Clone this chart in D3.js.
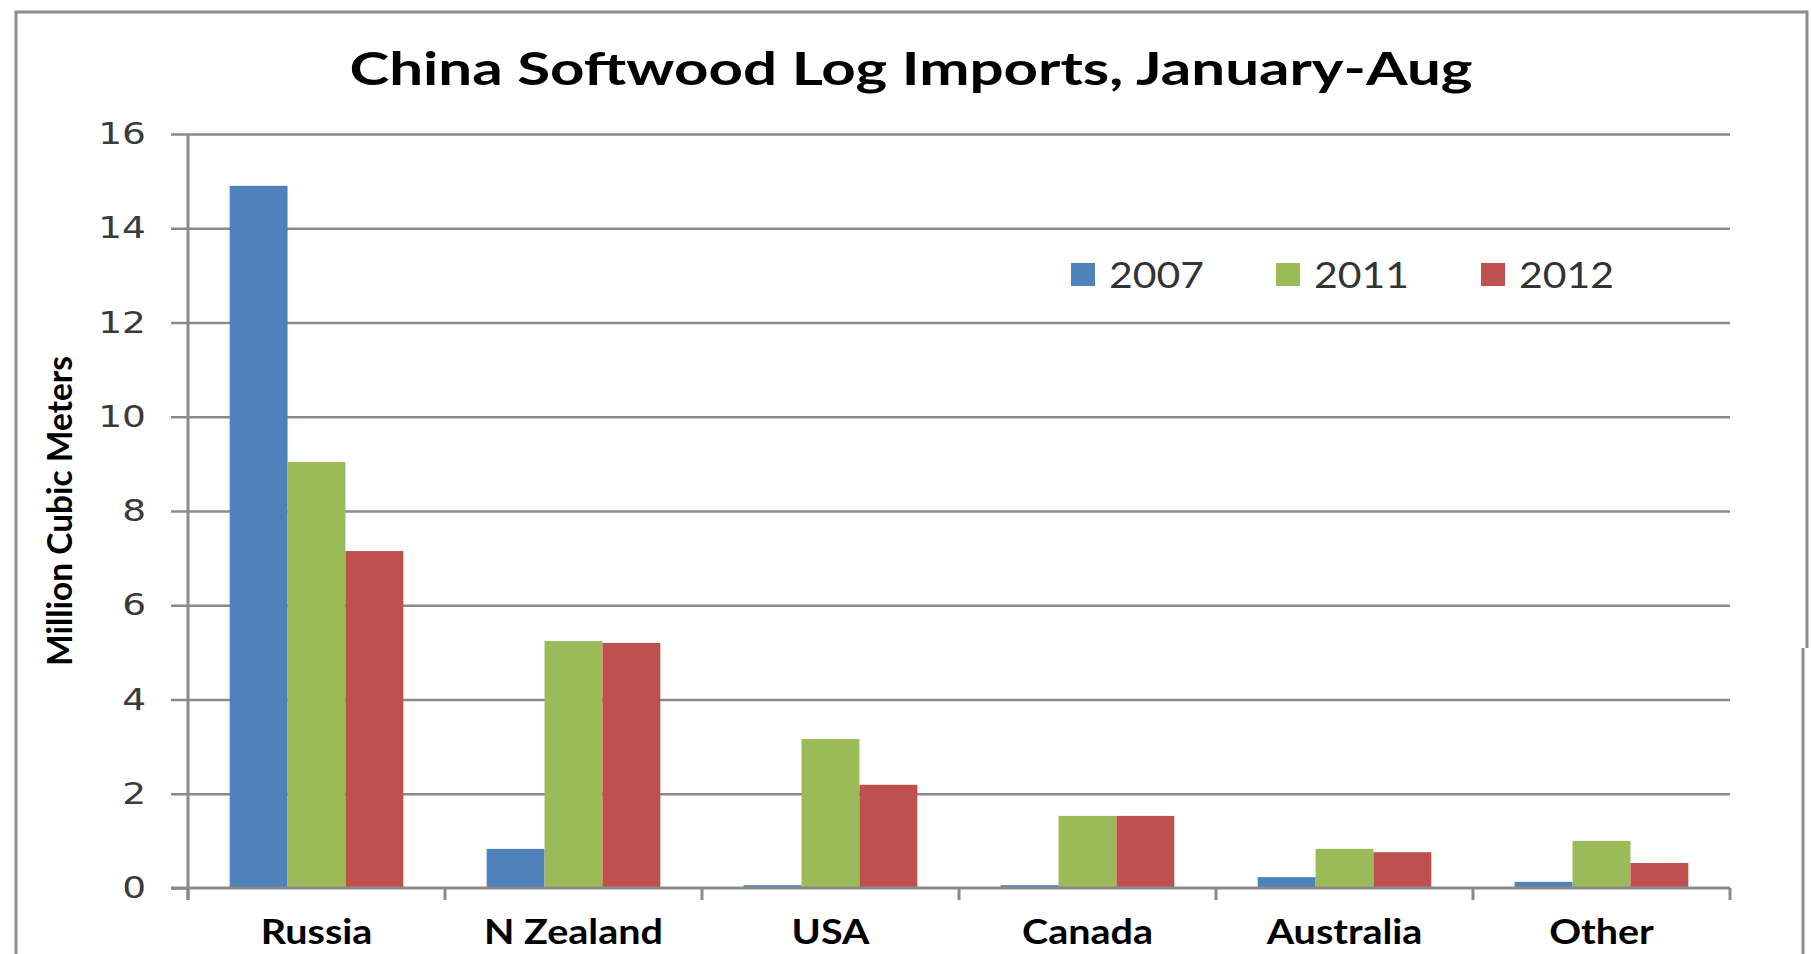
<!DOCTYPE html>
<html>
<head>
<meta charset="utf-8">
<script src="https://cdn.jsdelivr.net/npm/d3@7"></script>
<style>
  html, body { margin: 0; padding: 0; background: #fff; }
  svg { display: block; }
</style>
</head>
<body>
<svg id="chart" width="1811" height="954"></svg>
<script>
// ---- data ----
const categories = ["Russia", "N Zealand", "USA", "Canada", "Australia", "Other"];
const series = ["2007", "2011", "2012"];
const values2007 = [14.9, 0.83, 0.06, 0.06, 0.23, 0.13];
const values2011 = [9.04, 5.24, 3.16, 1.53, 0.83, 1.0];
const values2012 = [7.15, 5.2, 2.19, 1.53, 0.76, 0.53];
const yTicks = [0, 2, 4, 6, 8, 10, 12, 14, 16];
const titleText = "China Softwood Log Imports, January-Aug";
const yTitleText = "Million Cubic Meters";

const seriesValues = { "2007": values2007, "2011": values2011, "2012": values2012 };
const colors = { "2007": "#4F81BD", "2011": "#9BBB59", "2012": "#C0504D" };

// ---- layout ----
const svg = d3.select("#chart");
const plot = { left: 188, right: 1730, top: 134, bottom: 888 };
const gridColor = "#8a8a8a";

const x0 = d3.scaleBand().domain(categories).range([plot.left, plot.right]).padding(0);
const x1 = d3.scaleBand().domain(series).range([0, x0.bandwidth()]).paddingInner(0).paddingOuter(0.72);
const y = d3.scaleLinear().domain([0, 16]).range([plot.bottom, plot.top]);

// outer border
svg.append("path")
  .attr("d", "M16,960 L16,12 L1807,12 L1807,648 M1803,648 L1803,960")
  .attr("fill", "none").attr("stroke", "#8c8c8c").attr("stroke-width", 3);

// title
const title = svg.append("text")
  .attr("x", 911).attr("y", 85)
  .attr("text-anchor", "middle")
  .style("font-family", "Lato, 'Open Sans', sans-serif")
  .style("font-weight", "bold")
  .style("font-size", "46px")
  .attr("fill", "#000")
  .text(titleText);
const natTitle = title.node().getComputedTextLength();
title.attr("textLength", 1123).attr("lengthAdjust", "spacingAndGlyphs");
const sx = 1123 / natTitle;

// gridlines
svg.append("g")
  .attr("transform", `translate(${plot.left},0)`)
  .call(d3.axisLeft(y).tickValues(yTicks.filter(d => d > 0)).tickSize(-(plot.right - plot.left)).tickFormat(""))
  .call(g => g.select(".domain").remove())
  .call(g => g.selectAll(".tick line").attr("stroke", gridColor).attr("stroke-width", 2.5));

// y axis
const yAxisG = svg.append("g")
  .attr("transform", `translate(${plot.left},0)`)
  .call(d3.axisLeft(y).tickValues(yTicks).tickSize(17).tickPadding(25).tickSizeOuter(0));
yAxisG.select(".domain").remove();
yAxisG.selectAll(".tick line").attr("stroke", gridColor).attr("stroke-width", 2.5);
yAxisG.append("line")
  .attr("x1", 0).attr("x2", 0).attr("y1", plot.top).attr("y2", plot.bottom + 12)
  .attr("stroke", gridColor).attr("stroke-width", 3);
yAxisG.selectAll(".tick text")
  .style("font-family", "'DejaVu Sans', Verdana, sans-serif")
  .style("font-size", "30px")
  .attr("fill", "#3a3a3a")
  .each(function() {
    const w = this.getComputedTextLength();
    d3.select(this).attr("textLength", w * 1.25).attr("lengthAdjust", "spacingAndGlyphs");
  });

// bars
const barGroups = svg.append("g").selectAll("g")
  .data(series).join("g")
  .attr("fill", s => colors[s]);
barGroups.selectAll("rect")
  .data(s => categories.map((c, i) => ({ s, c, v: seriesValues[s][i] })))
  .join("rect")
  .attr("x", d => x0(d.c) + x1(d.s))
  .attr("width", x1.bandwidth())
  .attr("y", d => y(d.v))
  .attr("height", d => y(0) - y(d.v));

// x axis line and boundary ticks
const xAxisG = svg.append("g");
xAxisG.append("line")
  .attr("x1", plot.left - 17).attr("x2", plot.right)
  .attr("y1", y(0)).attr("y2", y(0))
  .attr("stroke", gridColor).attr("stroke-width", 3);
xAxisG.selectAll("line.b")
  .data(categories.map(c => x0(c)).concat([x0.range()[1]]))
  .join("line").attr("class", "b")
  .attr("x1", d => d).attr("x2", d => d)
  .attr("y1", y(0)).attr("y2", y(0) + 12)
  .attr("stroke", gridColor).attr("stroke-width", 3);

// x labels
xAxisG.selectAll("text")
  .data(categories).join("text")
  .attr("x", c => x0(c) + x0.bandwidth() / 2)
  .attr("y", 944)
  .attr("text-anchor", "middle")
  .style("font-family", "Lato, 'Open Sans', sans-serif")
  .style("font-weight", "bold")
  .style("font-size", "34px")
  .attr("fill", "#000")
  .text(c => c)
  .each(function() {
    const w = this.getComputedTextLength();
    d3.select(this).attr("textLength", w * sx * 0.89).attr("lengthAdjust", "spacingAndGlyphs");
  });

// y title
svg.append("text")
  .attr("transform", "translate(72,511) rotate(-90)")
  .attr("text-anchor", "middle")
  .style("font-family", "Lato, 'Open Sans', sans-serif")
  .style("font-weight", "bold")
  .style("font-size", "34px")
  .attr("fill", "#000")
  .attr("textLength", 310).attr("lengthAdjust", "spacingAndGlyphs")
  .text(yTitleText);

// legend
const legend = svg.append("g").selectAll("g")
  .data(series).join("g")
  .attr("transform", (s, i) => `translate(${1071 + i * 205},263)`);
legend.append("rect")
  .attr("width", 24).attr("height", 23)
  .attr("fill", s => colors[s]);
legend.append("text")
  .attr("x", 38).attr("y", 25)
  .style("font-family", "Lato, 'Open Sans', sans-serif")
  .style("font-size", "36px")
  .attr("fill", "#333")
  .text(s => s)
  .attr("textLength", 95).attr("lengthAdjust", "spacingAndGlyphs");
</script>
</body>
</html>
